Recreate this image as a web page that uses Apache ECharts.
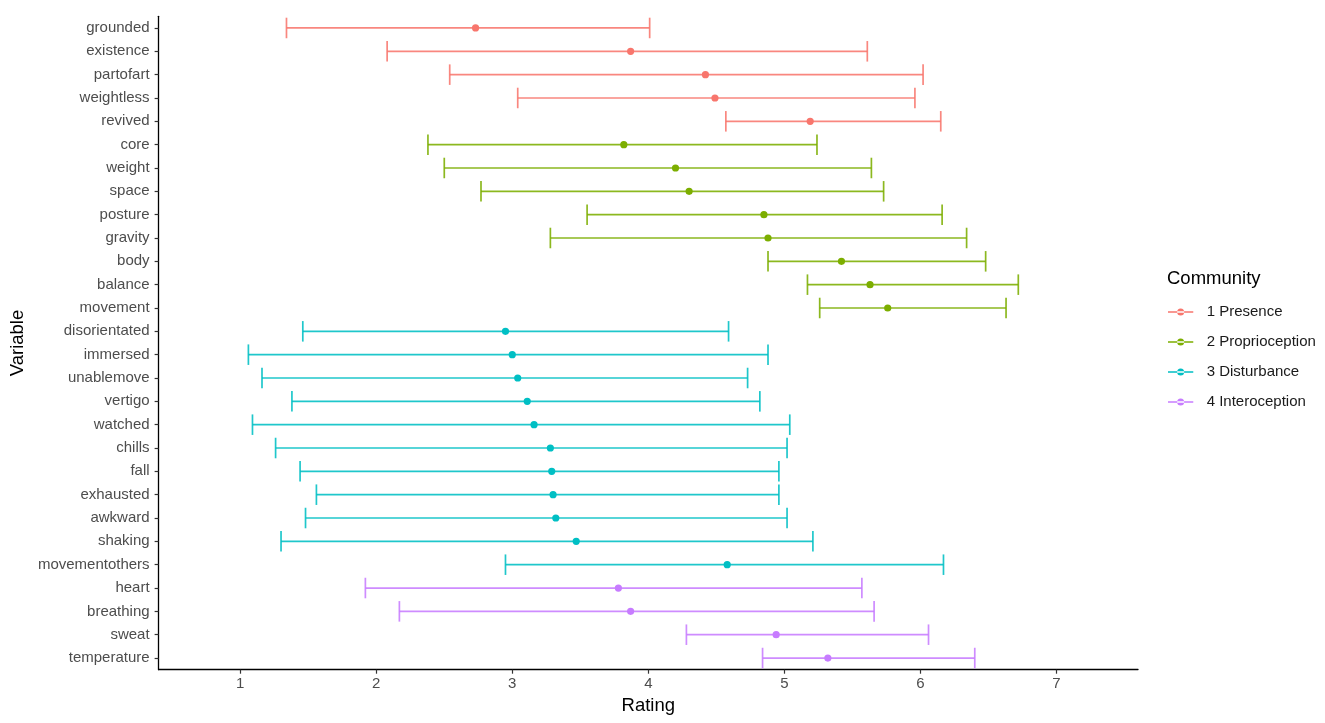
<!DOCTYPE html>
<html>
<head>
<meta charset="utf-8">
<script src="https://cdn.jsdelivr.net/npm/echarts@6/dist/echarts.min.js"></script>
<style>html,body{margin:0;padding:0;background:#fff;}#c{width:1325px;height:723px;}</style>
</head>
<body>
<div id="c"></div>
<script>
const categories = ["grounded","existence","partofart","weightless","revived","core","weight","space","posture","gravity","body","balance","movement","disorientated","immersed","unablemove","vertigo","watched","chills","fall","exhausted","awkward","shaking","movementothers","heart","breathing","sweat","temperature"];
const community = [1,1,1,1,1,2,2,2,2,2,2,2,2,3,3,3,3,3,3,3,3,3,3,3,4,4,4,4];
const lower = [1.34,2.08,2.54,3.04,4.57,2.38,2.50,2.77,3.55,3.28,4.88,5.17,5.26,1.46,1.06,1.16,1.38,1.09,1.26,1.44,1.56,1.48,1.30,2.95,1.92,2.17,4.28,4.84];
const mean  = [2.73,3.87,4.42,4.49,5.19,3.82,4.20,4.30,4.85,4.88,5.42,5.63,5.76,2.95,3.00,3.04,3.11,3.16,3.28,3.29,3.30,3.32,3.47,4.58,3.78,3.87,4.94,5.32];
const upper = [4.01,5.61,6.02,5.96,6.15,5.24,5.64,5.73,6.16,6.34,6.48,6.72,6.63,4.59,4.88,4.73,4.82,5.04,5.02,4.96,4.96,5.02,5.21,6.17,5.57,5.66,6.06,6.40];
const communityNames = ["1 Presence","2 Proprioception","3 Disturbance","4 Interoception"];
const communityColors = ["#F8766D","#7CAE00","#00BFC4","#C77CFF"];
const xTicks = [1,2,3,4,5,6,7];

const chart = echarts.init(document.getElementById('c'), null, {renderer:'canvas'});
const FONT = "'Liberation Sans', Arial, sans-serif";

const series = communityNames.map((name, ci) => {
  const data = [];
  categories.forEach((c, i) => {
    if (community[i] === ci + 1) data.push([i, lower[i], mean[i], upper[i]]);
  });
  const color = communityColors[ci];
  return {
    type: 'custom',
    name: name,
    itemStyle: {color: color},
    encode: {x: [1, 2, 3], y: 0},
    data: data,
    renderItem: function (params, api) {
      const yi = api.value(0);
      const pLo = api.coord([api.value(1), yi]);
      const pM = api.coord([api.value(2), yi]);
      const pHi = api.coord([api.value(3), yi]);
      const band = api.size([0, 1])[1];
      const h = band * 0.44;
      const lw = 1.7;
      const ls = {stroke: color, lineWidth: lw, opacity: 0.88};
      return {
        type: 'group',
        children: [
          {type: 'line', shape: {x1: pLo[0], y1: pLo[1], x2: pHi[0], y2: pHi[1]}, style: ls},
          {type: 'line', shape: {x1: pLo[0], y1: pLo[1] - h, x2: pLo[0], y2: pLo[1] + h}, style: ls},
          {type: 'line', shape: {x1: pHi[0], y1: pHi[1] - h, x2: pHi[0], y2: pHi[1] + h}, style: ls},
          {type: 'circle', shape: {cx: pM[0], cy: pM[1], r: 3.6}, style: {fill: color}}
        ]
      };
    }
  };
});

const legendIcon = 'path://M0,2.65 L26,2.65 L26,4.35 L0,4.35 Z M9.4,3.5 A3.6,3.6 0 1 0 16.6,3.5 A3.6,3.6 0 1 0 9.4,3.5 Z';

chart.setOption({
  animation: false,
  backgroundColor: '#fff',
  textStyle: {fontFamily: FONT},
  title: {
    text: 'Community', left: 1162, top: 264,
    textStyle: {fontFamily: FONT, fontSize: 18.5, fontWeight: 'normal', color: '#000'}
  },
  legend: {
    orient: 'vertical', left: 1163, top: 299.5,
    itemWidth: 26, itemHeight: 7, itemGap: 15,
    icon: legendIcon,
    data: communityNames,
    textStyle: {fontFamily: FONT, fontSize: 15, color: '#1a1a1a', padding: [0, 0, 0, 8]},
    selectedMode: false
  },
  grid: {left: 158, right: 187, top: 16.3, bottom: 53.3, containLabel: false},
  xAxis: {
    type: 'value', min: 0.4, max: 7.6,
    name: 'Rating', nameLocation: 'middle', nameGap: 25,
    nameTextStyle: {fontFamily: FONT, fontSize: 18.5, color: '#000'},
    axisLine: {show: true, lineStyle: {color: '#000', width: 1.3}},
    axisTick: {show: true, length: 4, lineStyle: {color: '#333', width: 1.2}, customValues: xTicks},
    axisLabel: {color: '#4D4D4D', fontSize: 15, fontFamily: FONT, margin: 7, customValues: xTicks},
    splitLine: {show: false}
  },
  yAxis: {
    type: 'category', data: categories, inverse: true,
    name: 'Variable', nameLocation: 'middle', nameGap: 128, nameRotate: 90,
    nameTextStyle: {fontFamily: FONT, fontSize: 18.5, color: '#000'},
    axisLine: {show: true, lineStyle: {color: '#000', width: 1.3}},
    axisTick: {show: true, length: 4, alignWithLabel: true, lineStyle: {color: '#333', width: 1.2}},
    axisLabel: {color: '#4D4D4D', fontSize: 15, fontFamily: FONT, margin: 9, interval: 0},
    splitLine: {show: false}
  },
  series: series
});
</script>
</body>
</html>
